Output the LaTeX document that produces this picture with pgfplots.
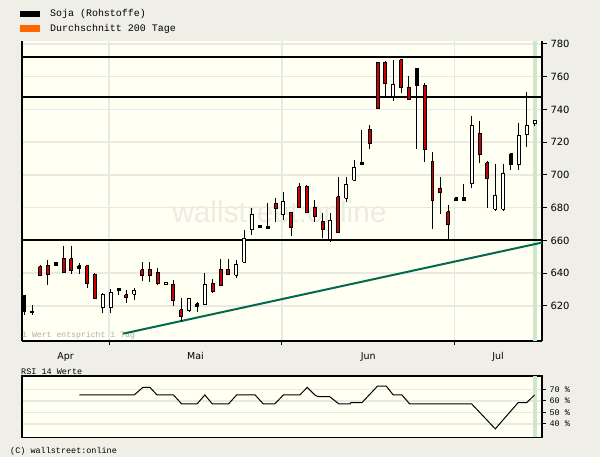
\documentclass[border=0pt]{standalone}
\usepackage{pgfplots}
\pgfplotsset{compat=1.18}
\usepackage{pgfplotstable}
\usepackage{fontspec}
\setmainfont{DejaVu Sans}
\newfontfamily\monofont{Liberation Mono}
\newfontfamily\wmfont{Liberation Sans}

\definecolor{pagebg}{RGB}{239,239,231}
\definecolor{plotbg}{RGB}{255,255,242}
\definecolor{gridc}{RGB}{232,232,228}
\definecolor{candlered}{RGB}{204,0,0}
\definecolor{trend}{RGB}{0,106,78}
\definecolor{band}{RGB}{204,232,204}
\definecolor{legorange}{RGB}{255,102,0}
\definecolor{wmark}{RGB}{236,236,228}

% t: 0 = hollow (white), 1 = red, 2 = black
\pgfplotstableread{
i  o      c      l      h      t
0  626.1  616.5  614.5  626.1  2
1  616.9  615.9  614.5  620.6  1
2  644.0  638.5  638.5  645.0  1
3  644.4  639.4  632.8  648.1  1
4  646.3  644.9  644.4  646.7  2
5  648.7  640.3  640.3  656.8  1
6  648.7  641.6  639.5  656.8  1
7  644.6  643.0  639.4  646.1  2
8  644.4  633.9  630.8  644.4  1
9  639.4  624.3  624.3  640.0  1
10 619.0  627.3  615.5  627.8  0
11 619.0  628.1  615.5  630.4  0
12 630.8  629.3  626.7  630.8  2
13 626.7  625.3  621.6  629.8  1
14 627.2  629.2  623.7  630.8  0
15 642.0  638.3  635.5  647.1  1
16 642.0  638.3  634.7  647.1  1
17 640.6  633.9  632.8  643.0  1
18 633.0  634.2  633.0  634.2  0
19 633.4  623.2  620.0  635.9  1
20 617.6  613.5  610.4  624.7  1
21 617.1  624.7  616.5  624.7  0
22 621.2  619.6  616.5  622.6  2
23 621.0  633.3  621.0  640.0  0
24 633.9  628.7  628.1  636.3  1
25 642.4  632.6  632.6  648.7  1
26 642.4  639.4  638.7  648.7  1
27 638.7  645.6  636.9  648.1  0
28 646.7  661.3  646.7  666.4  0
29 666.4  675.6  663.4  679.7  0
30 669.0  668.1  667.8  669.3  2
31 668.4  667.5  667.5  682.7  2
32 682.7  679.7  671.5  685.8  1
33 675.6  683.7  672.5  689.8  0
34 677.2  668.1  662.9  677.2  1
35 692.9  680.3  680.3  694.9  1
36 692.9  677.0  676.6  693.9  1
37 680.3  674.5  671.5  684.7  1
38 671.5  666.4  661.3  676.6  1
39 660.3  672.1  659.3  676.6  0
40 686.7  665.0  665.0  699.0  1
41 685.8  693.9  683.7  699.0  0
42 696.9  704.7  696.9  709.2  0
43 707.5  706.5  706.5  727.5  2
44 727.5  719.4  715.9  730.5  1
45 768.8  740.7  740.7  769.2  1
46 768.8  756.0  747.8  769.8  1
47 747.8  755.0  745.4  770.2  0
48 770.2  753.6  750.3  770.7  1
49 753.6  745.8  745.8  760.5  1
50 764.7  754.4  715.7  764.7  2
51 754.4  715.7  708.1  756.0  1
52 708.1  684.3  667.0  713.9  1
53 691.9  689.2  676.0  698.6  1
54 677.6  669.9  660.3  681.7  1
55 686.0  684.7  684.7  686.0  2
56 686.0  684.7  684.7  694.5  2
57 694.5  730.1  691.9  736.0  0
58 725.5  712.6  707.5  733.0  1
59 707.5  698.0  679.7  708.7  1
60 679.1  687.2  678.2  706.7  0
61 679.2  701.0  678.2  706.7  0
62 712.8  706.5  703.1  712.8  2
63 706.5  723.8  703.1  731.9  0
64 724.9  730.5  717.3  750.9  0
65 731.6  733.0  730.1  733.0  0
}\candles

\pgfplotstableread{
i     rsi
7     65.1
14    65.1
15.1  71.7
16    71.7
16.9  65.1
19    65.1
20.05 57.3
22    57.3
23    65.1
23.95 57.3
26    57.3
27.05 65.1
29.4  65.1
30.45 57.3
31.9  57.3
33    65.1
35.1  65.1
36.05 71.7
37    65.1
37.45 63.6
38.9  63.6
40.1  57.3
41.5  57.3
41.6  58.4
43    58.4
45    72.8
46.1  72.8
47    65.1
48.1  65.1
49.1  57.3
57    57.3
60    35.8
62.9  58.4
64    58.4
65    65.1
}\rsidata

\begin{document}
\begin{tikzpicture}
\path[use as bounding box] (0,0) rectangle (600bp,457bp);
\fill[pagebg] (0,0) rectangle (600bp,457bp);

% legend
\fill[black] (20bp,440.3bp) rectangle (40bp,446.3bp);
\fill[legorange] (20bp,424.7bp) rectangle (40bp,431.7bp);
\node[anchor=west, inner sep=0pt, font=\monofont\fontsize{10}{12}\selectfont] at (50bp,442.7bp) {Soja (Rohstoffe)};
\node[anchor=west, inner sep=0pt, font=\monofont\fontsize{10}{12}\selectfont] at (50bp,428bp) {Durchschnitt 200 Tage};

\begin{axis}[
  at={(22bp,116bp)}, anchor=south west, scale only axis,
  width=520bp, height=300bp,
  xmin=-0.3, xmax=65.95, ymin=598.6, ymax=781.8,
  axis x line*=bottom, axis y line*=right,
  axis line style={black, line width=1.3bp},
  axis background/.style={fill=plotbg},
  tick align=outside,
  xtick={5.25,21.8,43.8,60.35}, xticklabels={Apr,Mai,Jun,Jul},
  major x tick style={draw=none},
  minor xtick={10.8,32.8,54.8},
  minor x tick style={black, line width=1bp},
  minor tick length=4bp,
  xminorgrids, xmajorgrids=false,
  ytick={620,640,...,780},
  major y tick style={black, line width=1bp},
  major tick length=5bp,
  ymajorgrids,
  grid style={gridc, line width=1.5bp},
  minor grid style={gridc, line width=1.5bp},
  /pgf/number format/assume math mode=true,
  yticklabel style={font=\fontsize{10}{12}\selectfont, anchor=west},
  xticklabel style={font=\fontsize{9.5}{11}\selectfont, yshift=-3bp},
  clip=false,
]
\fill[band] (axis cs:64.76,598.6) rectangle (axis cs:65.27,781.8);
\node[text=wmark, font=\wmfont\fontsize{30}{30}\selectfont] at (axis cs:32.5,677.5) {wallstreet:online};
\draw[black, line width=1.3bp] (rel axis cs:0,0) -- (rel axis cs:0,1);
\node[anchor=west, inner sep=0pt, text={rgb,255:red,175;green,175;blue,175}, font=\monofont\fontsize{8.2}{9}\selectfont] at (axis cs:-0.3,601.8) {1 Wert entspricht 1 Tag};

% support / resistance lines
\addplot[black, line width=2bp, forget plot] coordinates {(-0.3,772.2) (65.95,772.2)};
\addplot[black, line width=2bp, forget plot] coordinates {(-0.3,747.7) (65.95,747.7)};
\addplot[black, line width=2bp, forget plot] coordinates {(-0.3,660.4) (65.95,660.4)};
% trend line
\addplot[trend, line width=2bp, forget plot] coordinates {(12.6,603.1) (65.95,658.7)};

% candles
\pgfplotsforeachungrouped \r in {0,...,65}{%
  \pgfplotstablegetelem{\r}{i}\of\candles \let\ci\pgfplotsretval
  \pgfplotstablegetelem{\r}{o}\of\candles \let\co\pgfplotsretval
  \pgfplotstablegetelem{\r}{c}\of\candles \let\cc\pgfplotsretval
  \pgfplotstablegetelem{\r}{l}\of\candles \let\cl\pgfplotsretval
  \pgfplotstablegetelem{\r}{h}\of\candles \let\ch\pgfplotsretval
  \pgfplotstablegetelem{\r}{t}\of\candles \let\ct\pgfplotsretval
  \pgfmathsetmacro\xa{\ci-0.19}%
  \pgfmathsetmacro\xb{\ci+0.19}%
  \ifcase\ct\relax \def\cf{white}\or \def\cf{candlered}\else \def\cf{black}\fi
  \edef\doit{%
    \noexpand\addplot[black, line width=1bp, forget plot] coordinates {(\ci,\cl) (\ci,\ch)};
    \noexpand\addplot[draw=black, fill=\cf, line width=1bp, line join=miter, forget plot] coordinates {(\xa,\co) (\xb,\co) (\xb,\cc) (\xa,\cc) (\xa,\co)};
  }%
  \doit
}
\end{axis}

\node[anchor=west, inner sep=0pt, font=\monofont\fontsize{8.5}{10}\selectfont] at (21bp,85.3bp) {RSI 14 Werte};
\node[anchor=west, inner sep=0pt, font=\monofont\fontsize{8.5}{10}\selectfont] at (10bp,6bp) {(C) wallstreet:online};

\begin{axis}[
  at={(22bp,19.7bp)}, anchor=south west, scale only axis,
  width=520bp, height=61.3bp,
  xmin=-0.3, xmax=65.95, ymin=28.5, ymax=81.5,
  axis line style={black, line width=1.3bp},
  axis background/.style={fill=plotbg},
  xtick=\empty, minor xtick={10.8,32.8,54.8}, xminorgrids,
  minor tick length=0pt,
  ytick={40,50,60,70}, yticklabels={40 \%,50 \%,60 \%,70 \%},
  ytick pos=right, yticklabel pos=right,
  tick align=outside, major tick length=4bp,
  major y tick style={black, line width=1bp},
  ymajorgrids,
  grid style={gridc, line width=1.5bp},
  minor grid style={gridc, line width=1.5bp},
  yticklabel style={font=\monofont\fontsize{8.5}{10}\selectfont, anchor=west},
]
\fill[band] (axis cs:64.76,28.5) rectangle (axis cs:65.27,81.5);
\addplot[black, line width=1bp, forget plot] table[x=i, y=rsi] {\rsidata};
\end{axis}
\end{tikzpicture}
\end{document}
